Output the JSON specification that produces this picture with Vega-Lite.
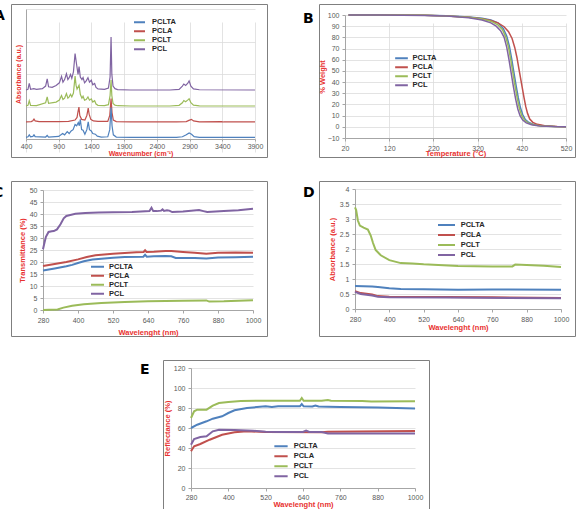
{
"$schema":"https://vega.github.io/schema/vega-lite/v6.json",
"padding":{"left":-8,"top":3,"right":0,"bottom":0},
"background":"white",
"datasets":{
"a":[
{"s":"PCL","x":400,"y":3.77},{"s":"PCL","x":430,"y":3.82},{"s":"PCL","x":450,"y":4.27},{"s":"PCL","x":470,"y":3.82},{"s":"PCL","x":520,"y":3.87},{"s":"PCL","x":560,"y":3.82},{"s":"PCL","x":650,"y":3.87},{"s":"PCL","x":700,"y":4.07},{"s":"PCL","x":724,"y":4.62},{"s":"PCL","x":745,"y":4.02},{"s":"PCL","x":800,"y":3.97},{"s":"PCL","x":860,"y":4.12},{"s":"PCL","x":910,"y":4.32},{"s":"PCL","x":943,"y":4.82},{"s":"PCL","x":965,"y":4.37},{"s":"PCL","x":990,"y":4.57},{"s":"PCL","x":1018,"y":5.02},{"s":"PCL","x":1040,"y":4.57},{"s":"PCL","x":1060,"y":4.72},{"s":"PCL","x":1080,"y":4.97},{"s":"PCL","x":1100,"y":4.67},{"s":"PCL","x":1125,"y":5.17},{"s":"PCL","x":1150,"y":6.57},{"s":"PCL","x":1175,"y":5.67},{"s":"PCL","x":1195,"y":4.97},{"s":"PCL","x":1211,"y":5.57},{"s":"PCL","x":1230,"y":4.77},{"s":"PCL","x":1255,"y":4.57},{"s":"PCL","x":1272,"y":4.72},{"s":"PCL","x":1295,"y":4.32},{"s":"PCL","x":1320,"y":4.47},{"s":"PCL","x":1347,"y":4.72},{"s":"PCL","x":1370,"y":4.37},{"s":"PCL","x":1398,"y":4.52},{"s":"PCL","x":1420,"y":4.17},{"s":"PCL","x":1449,"y":4.27},{"s":"PCL","x":1470,"y":3.97},{"s":"PCL","x":1500,"y":3.85},{"s":"PCL","x":1600,"y":3.82},{"s":"PCL","x":1660,"y":3.92},{"s":"PCL","x":1685,"y":4.77},{"s":"PCL","x":1700,"y":7.85},{"s":"PCL","x":1712,"y":4.97},{"s":"PCL","x":1730,"y":4.07},{"s":"PCL","x":1760,"y":3.87},{"s":"PCL","x":1800,"y":3.8},{"s":"PCL","x":2000,"y":3.77},{"s":"PCL","x":2600,"y":3.77},{"s":"PCL","x":2740,"y":3.82},{"s":"PCL","x":2790,"y":4.07},{"s":"PCL","x":2812,"y":4.23},{"s":"PCL","x":2840,"y":4.12},{"s":"PCL","x":2870,"y":4.27},{"s":"PCL","x":2893,"y":4.47},{"s":"PCL","x":2920,"y":4.07},{"s":"PCL","x":2960,"y":3.85},{"s":"PCL","x":3050,"y":3.79},{"s":"PCL","x":3900,"y":3.77},
{"s":"PCLT","x":400,"y":2.54},{"s":"PCLT","x":430,"y":2.59},{"s":"PCLT","x":450,"y":2.94},{"s":"PCLT","x":470,"y":2.59},{"s":"PCLT","x":560,"y":2.57},{"s":"PCLT","x":700,"y":2.79},{"s":"PCLT","x":724,"y":3.24},{"s":"PCLT","x":745,"y":2.74},{"s":"PCLT","x":860,"y":2.84},{"s":"PCLT","x":910,"y":2.99},{"s":"PCLT","x":943,"y":3.34},{"s":"PCLT","x":965,"y":3.04},{"s":"PCLT","x":990,"y":3.14},{"s":"PCLT","x":1018,"y":3.49},{"s":"PCLT","x":1040,"y":3.14},{"s":"PCLT","x":1060,"y":3.24},{"s":"PCLT","x":1080,"y":3.44},{"s":"PCLT","x":1100,"y":3.24},{"s":"PCLT","x":1125,"y":3.54},{"s":"PCLT","x":1150,"y":4.84},{"s":"PCLT","x":1165,"y":4.14},{"s":"PCLT","x":1180,"y":3.84},{"s":"PCLT","x":1211,"y":4.14},{"s":"PCLT","x":1230,"y":3.44},{"s":"PCLT","x":1255,"y":3.14},{"s":"PCLT","x":1272,"y":3.29},{"s":"PCLT","x":1295,"y":2.99},{"s":"PCLT","x":1320,"y":3.04},{"s":"PCLT","x":1347,"y":3.24},{"s":"PCLT","x":1370,"y":2.99},{"s":"PCLT","x":1398,"y":3.09},{"s":"PCLT","x":1420,"y":2.84},{"s":"PCLT","x":1449,"y":2.94},{"s":"PCLT","x":1470,"y":2.69},{"s":"PCLT","x":1500,"y":2.59},{"s":"PCLT","x":1600,"y":2.57},{"s":"PCLT","x":1660,"y":2.64},{"s":"PCLT","x":1685,"y":3.34},{"s":"PCLT","x":1700,"y":4.54},{"s":"PCLT","x":1712,"y":3.34},{"s":"PCLT","x":1730,"y":2.74},{"s":"PCLT","x":1760,"y":2.6},{"s":"PCLT","x":1800,"y":2.56},{"s":"PCLT","x":2000,"y":2.54},{"s":"PCLT","x":2600,"y":2.54},{"s":"PCLT","x":2740,"y":2.59},{"s":"PCLT","x":2790,"y":2.79},{"s":"PCLT","x":2812,"y":2.96},{"s":"PCLT","x":2840,"y":2.87},{"s":"PCLT","x":2870,"y":2.99},{"s":"PCLT","x":2893,"y":3.09},{"s":"PCLT","x":2920,"y":2.79},{"s":"PCLT","x":2960,"y":2.6},{"s":"PCLT","x":3050,"y":2.55},{"s":"PCLT","x":3900,"y":2.54},
{"s":"PCLA","x":400,"y":1.31},{"s":"PCLA","x":480,"y":1.34},{"s":"PCLA","x":505,"y":1.41},{"s":"PCLA","x":522,"y":1.53},{"s":"PCLA","x":540,"y":1.39},{"s":"PCLA","x":600,"y":1.33},{"s":"PCLA","x":720,"y":1.34},{"s":"PCLA","x":900,"y":1.33},{"s":"PCLA","x":1050,"y":1.36},{"s":"PCLA","x":1150,"y":1.46},{"s":"PCLA","x":1180,"y":1.66},{"s":"PCLA","x":1195,"y":2.11},{"s":"PCLA","x":1209,"y":2.46},{"s":"PCLA","x":1222,"y":1.81},{"s":"PCLA","x":1250,"y":1.51},{"s":"PCLA","x":1300,"y":1.46},{"s":"PCLA","x":1330,"y":1.81},{"s":"PCLA","x":1351,"y":2.38},{"s":"PCLA","x":1365,"y":1.91},{"s":"PCLA","x":1390,"y":1.51},{"s":"PCLA","x":1430,"y":1.39},{"s":"PCLA","x":1500,"y":1.35},{"s":"PCLA","x":1650,"y":1.36},{"s":"PCLA","x":1680,"y":1.81},{"s":"PCLA","x":1700,"y":3.11},{"s":"PCLA","x":1715,"y":2.01},{"s":"PCLA","x":1735,"y":1.46},{"s":"PCLA","x":1780,"y":1.34},{"s":"PCLA","x":2000,"y":1.31},{"s":"PCLA","x":2700,"y":1.31},{"s":"PCLA","x":2850,"y":1.34},{"s":"PCLA","x":2890,"y":1.43},{"s":"PCLA","x":2929,"y":1.51},{"s":"PCLA","x":2960,"y":1.39},{"s":"PCLA","x":3050,"y":1.32},{"s":"PCLA","x":3387,"y":1.34},{"s":"PCLA","x":3420,"y":1.31},{"s":"PCLA","x":3900,"y":1.31},
{"s":"PCLTA","x":400,"y":0.12},{"s":"PCLTA","x":430,"y":0.17},{"s":"PCLTA","x":450,"y":0.32},{"s":"PCLTA","x":470,"y":0.17},{"s":"PCLTA","x":505,"y":0.2},{"s":"PCLTA","x":522,"y":0.32},{"s":"PCLTA","x":540,"y":0.18},{"s":"PCLTA","x":700,"y":0.15},{"s":"PCLTA","x":724,"y":0.27},{"s":"PCLTA","x":745,"y":0.15},{"s":"PCLTA","x":900,"y":0.2},{"s":"PCLTA","x":960,"y":0.42},{"s":"PCLTA","x":990,"y":0.32},{"s":"PCLTA","x":1030,"y":0.57},{"s":"PCLTA","x":1060,"y":0.42},{"s":"PCLTA","x":1090,"y":0.62},{"s":"PCLTA","x":1120,"y":0.72},{"s":"PCLTA","x":1150,"y":1.12},{"s":"PCLTA","x":1175,"y":1.02},{"s":"PCLTA","x":1199,"y":1.27},{"s":"PCLTA","x":1215,"y":1.02},{"s":"PCLTA","x":1230,"y":1.52},{"s":"PCLTA","x":1250,"y":0.72},{"s":"PCLTA","x":1272,"y":0.67},{"s":"PCLTA","x":1300,"y":0.37},{"s":"PCLTA","x":1330,"y":0.72},{"s":"PCLTA","x":1351,"y":1.32},{"s":"PCLTA","x":1370,"y":0.72},{"s":"PCLTA","x":1398,"y":0.62},{"s":"PCLTA","x":1420,"y":0.42},{"s":"PCLTA","x":1460,"y":0.37},{"s":"PCLTA","x":1490,"y":0.22},{"s":"PCLTA","x":1550,"y":0.15},{"s":"PCLTA","x":1650,"y":0.17},{"s":"PCLTA","x":1680,"y":0.72},{"s":"PCLTA","x":1700,"y":2.42},{"s":"PCLTA","x":1715,"y":1.02},{"s":"PCLTA","x":1735,"y":0.32},{"s":"PCLTA","x":1780,"y":0.15},{"s":"PCLTA","x":2000,"y":0.12},{"s":"PCLTA","x":2700,"y":0.12},{"s":"PCLTA","x":2790,"y":0.17},{"s":"PCLTA","x":2850,"y":0.32},{"s":"PCLTA","x":2893,"y":0.47},{"s":"PCLTA","x":2930,"y":0.37},{"s":"PCLTA","x":2970,"y":0.18},{"s":"PCLTA","x":3050,"y":0.13},{"s":"PCLTA","x":3900,"y":0.12}
],
"b":[
{"s":"PCLTA","x":28,"y":100},{"s":"PCLTA","x":100,"y":100},{"s":"PCLTA","x":200,"y":99.8},{"s":"PCLTA","x":250,"y":99.4},{"s":"PCLTA","x":300,"y":98.3},{"s":"PCLTA","x":330,"y":97},{"s":"PCLTA","x":350,"y":95.5},{"s":"PCLTA","x":366,"y":93},{"s":"PCLTA","x":378,"y":88},{"s":"PCLTA","x":386,"y":81},{"s":"PCLTA","x":392,"y":72},{"s":"PCLTA","x":397,"y":61},{"s":"PCLTA","x":402,"y":49},{"s":"PCLTA","x":407,"y":37},{"s":"PCLTA","x":412,"y":26},{"s":"PCLTA","x":417,"y":17},{"s":"PCLTA","x":422,"y":11},{"s":"PCLTA","x":428,"y":6.5},{"s":"PCLTA","x":436,"y":3.8},{"s":"PCLTA","x":448,"y":2},{"s":"PCLTA","x":466,"y":0.9},{"s":"PCLTA","x":496,"y":0.2},{"s":"PCLTA","x":520,"y":0},
{"s":"PCLA","x":28,"y":100},{"s":"PCLA","x":100,"y":100},{"s":"PCLA","x":200,"y":99.7},{"s":"PCLA","x":250,"y":99.2},{"s":"PCLA","x":300,"y":98},{"s":"PCLA","x":330,"y":96.6},{"s":"PCLA","x":350,"y":95},{"s":"PCLA","x":366,"y":93},{"s":"PCLA","x":380,"y":89.5},{"s":"PCLA","x":390,"y":85},{"s":"PCLA","x":398,"y":79},{"s":"PCLA","x":404,"y":71},{"s":"PCLA","x":409,"y":62},{"s":"PCLA","x":413,"y":53},{"s":"PCLA","x":417,"y":44},{"s":"PCLA","x":421,"y":35},{"s":"PCLA","x":425,"y":26},{"s":"PCLA","x":429,"y":18},{"s":"PCLA","x":433,"y":12},{"s":"PCLA","x":438,"y":7},{"s":"PCLA","x":445,"y":4},{"s":"PCLA","x":455,"y":2.2},{"s":"PCLA","x":472,"y":0.9},{"s":"PCLA","x":500,"y":0.2},{"s":"PCLA","x":520,"y":0},
{"s":"PCLT","x":28,"y":100},{"s":"PCLT","x":100,"y":100},{"s":"PCLT","x":200,"y":99.7},{"s":"PCLT","x":250,"y":99.2},{"s":"PCLT","x":300,"y":98},{"s":"PCLT","x":330,"y":96.5},{"s":"PCLT","x":350,"y":94.5},{"s":"PCLT","x":365,"y":91.5},{"s":"PCLT","x":376,"y":87},{"s":"PCLT","x":384,"y":80},{"s":"PCLT","x":390,"y":71},{"s":"PCLT","x":395,"y":60},{"s":"PCLT","x":400,"y":48},{"s":"PCLT","x":405,"y":36},{"s":"PCLT","x":410,"y":25},{"s":"PCLT","x":415,"y":16},{"s":"PCLT","x":420,"y":10},{"s":"PCLT","x":426,"y":6},{"s":"PCLT","x":434,"y":3.5},{"s":"PCLT","x":446,"y":1.8},{"s":"PCLT","x":464,"y":0.8},{"s":"PCLT","x":494,"y":0.2},{"s":"PCLT","x":520,"y":0},
{"s":"PCL","x":28,"y":100},{"s":"PCL","x":100,"y":100},{"s":"PCL","x":200,"y":99.6},{"s":"PCL","x":250,"y":99},{"s":"PCL","x":300,"y":97.5},{"s":"PCL","x":330,"y":95.5},{"s":"PCL","x":350,"y":93},{"s":"PCL","x":362,"y":90},{"s":"PCL","x":372,"y":86},{"s":"PCL","x":380,"y":80},{"s":"PCL","x":386,"y":71},{"s":"PCL","x":391,"y":60},{"s":"PCL","x":396,"y":48},{"s":"PCL","x":401,"y":36},{"s":"PCL","x":406,"y":25},{"s":"PCL","x":411,"y":16},{"s":"PCL","x":416,"y":10},{"s":"PCL","x":422,"y":6},{"s":"PCL","x":430,"y":3.5},{"s":"PCL","x":442,"y":1.8},{"s":"PCL","x":460,"y":0.8},{"s":"PCL","x":490,"y":0.2},{"s":"PCL","x":520,"y":0}
],
"c":[
{"s":"PCL","x":280,"y":25.3},{"s":"PCL","x":285,"y":28},{"s":"PCL","x":290,"y":30.5},{"s":"PCL","x":299,"y":32.5},{"s":"PCL","x":310,"y":32.8},{"s":"PCL","x":317,"y":32.9},{"s":"PCL","x":328,"y":33.6},{"s":"PCL","x":340,"y":35.7},{"s":"PCL","x":351,"y":38.2},{"s":"PCL","x":360,"y":39.2},{"s":"PCL","x":370,"y":39.5},{"s":"PCL","x":391,"y":40.1},{"s":"PCL","x":425,"y":40.4},{"s":"PCL","x":471,"y":40.6},{"s":"PCL","x":520,"y":40.7},{"s":"PCL","x":585,"y":40.8},{"s":"PCL","x":645,"y":41.2},{"s":"PCL","x":652,"y":42.6},{"s":"PCL","x":658,"y":41.2},{"s":"PCL","x":670,"y":41.2},{"s":"PCL","x":685,"y":41.4},{"s":"PCL","x":690,"y":41.9},{"s":"PCL","x":695,"y":41.3},{"s":"PCL","x":705,"y":41.6},{"s":"PCL","x":713,"y":41.4},{"s":"PCL","x":723,"y":40.8},{"s":"PCL","x":760,"y":41},{"s":"PCL","x":815,"y":41.7},{"s":"PCL","x":830,"y":41.2},{"s":"PCL","x":843,"y":40.8},{"s":"PCL","x":900,"y":41.2},{"s":"PCL","x":950,"y":41.6},{"s":"PCL","x":1000,"y":42.2},
{"s":"PCLA","x":280,"y":18.3},{"s":"PCLA","x":320,"y":19.2},{"s":"PCLA","x":360,"y":20},{"s":"PCLA","x":400,"y":21.1},{"s":"PCLA","x":430,"y":22.1},{"s":"PCLA","x":460,"y":22.8},{"s":"PCLA","x":520,"y":23.4},{"s":"PCLA","x":560,"y":23.7},{"s":"PCLA","x":600,"y":24.1},{"s":"PCLA","x":625,"y":24.2},{"s":"PCLA","x":630,"y":24.9},{"s":"PCLA","x":635,"y":24.2},{"s":"PCLA","x":660,"y":24.3},{"s":"PCLA","x":700,"y":24.6},{"s":"PCLA","x":720,"y":24.6},{"s":"PCLA","x":760,"y":24.2},{"s":"PCLA","x":800,"y":23.9},{"s":"PCLA","x":840,"y":23.4},{"s":"PCLA","x":880,"y":23.9},{"s":"PCLA","x":940,"y":24},{"s":"PCLA","x":1000,"y":23.9},
{"s":"PCLTA","x":280,"y":16.5},{"s":"PCLTA","x":320,"y":17.3},{"s":"PCLTA","x":360,"y":18.2},{"s":"PCLTA","x":380,"y":18.8},{"s":"PCLTA","x":400,"y":19.6},{"s":"PCLTA","x":420,"y":20.3},{"s":"PCLTA","x":450,"y":21},{"s":"PCLTA","x":480,"y":21.4},{"s":"PCLTA","x":520,"y":21.8},{"s":"PCLTA","x":560,"y":22.1},{"s":"PCLTA","x":624,"y":22.2},{"s":"PCLTA","x":630,"y":23},{"s":"PCLTA","x":636,"y":22.2},{"s":"PCLTA","x":660,"y":22.4},{"s":"PCLTA","x":700,"y":22.5},{"s":"PCLTA","x":720,"y":22.4},{"s":"PCLTA","x":735,"y":21.7},{"s":"PCLTA","x":800,"y":21.7},{"s":"PCLTA","x":840,"y":21.5},{"s":"PCLTA","x":880,"y":21.9},{"s":"PCLTA","x":940,"y":22},{"s":"PCLTA","x":1000,"y":22.2},
{"s":"PCLT","x":280,"y":0},{"s":"PCLT","x":300,"y":0.1},{"s":"PCLT","x":330,"y":0.2},{"s":"PCLT","x":350,"y":1},{"s":"PCLT","x":380,"y":1.8},{"s":"PCLT","x":420,"y":2.4},{"s":"PCLT","x":480,"y":2.9},{"s":"PCLT","x":560,"y":3.3},{"s":"PCLT","x":640,"y":3.6},{"s":"PCLT","x":760,"y":3.9},{"s":"PCLT","x":840,"y":4},{"s":"PCLT","x":850,"y":3.5},{"s":"PCLT","x":900,"y":3.6},{"s":"PCLT","x":1000,"y":4.1}
],
"d":[
{"s":"PCLT","x":280,"y":3.39},{"s":"PCLT","x":284,"y":3.3},{"s":"PCLT","x":290,"y":2.95},{"s":"PCLT","x":297,"y":2.78},{"s":"PCLT","x":310,"y":2.71},{"s":"PCLT","x":325,"y":2.65},{"s":"PCLT","x":335,"y":2.45},{"s":"PCLT","x":343,"y":2.2},{"s":"PCLT","x":352,"y":1.97},{"s":"PCLT","x":370,"y":1.79},{"s":"PCLT","x":400,"y":1.63},{"s":"PCLT","x":440,"y":1.53},{"s":"PCLT","x":480,"y":1.52},{"s":"PCLT","x":520,"y":1.49},{"s":"PCLT","x":640,"y":1.43},{"s":"PCLT","x":760,"y":1.42},{"s":"PCLT","x":830,"y":1.42},{"s":"PCLT","x":840,"y":1.48},{"s":"PCLT","x":880,"y":1.47},{"s":"PCLT","x":940,"y":1.44},{"s":"PCLT","x":1000,"y":1.4},
{"s":"PCLTA","x":280,"y":0.77},{"s":"PCLTA","x":340,"y":0.75},{"s":"PCLTA","x":360,"y":0.73},{"s":"PCLTA","x":400,"y":0.69},{"s":"PCLTA","x":440,"y":0.67},{"s":"PCLTA","x":520,"y":0.66},{"s":"PCLTA","x":640,"y":0.64},{"s":"PCLTA","x":760,"y":0.65},{"s":"PCLTA","x":1000,"y":0.64},
{"s":"PCLA","x":280,"y":0.59},{"s":"PCLA","x":300,"y":0.53},{"s":"PCLA","x":340,"y":0.48},{"s":"PCLA","x":360,"y":0.43},{"s":"PCLA","x":400,"y":0.41},{"s":"PCLA","x":600,"y":0.4},{"s":"PCLA","x":760,"y":0.39},{"s":"PCLA","x":1000,"y":0.37},
{"s":"PCL","x":280,"y":0.57},{"s":"PCL","x":300,"y":0.5},{"s":"PCL","x":340,"y":0.45},{"s":"PCL","x":360,"y":0.41},{"s":"PCL","x":400,"y":0.39},{"s":"PCL","x":600,"y":0.38},{"s":"PCL","x":1000,"y":0.36}
],
"e":[
{"s":"PCLT","x":280,"y":70},{"s":"PCLT","x":290,"y":76.7},{"s":"PCLT","x":300,"y":78.3},{"s":"PCLT","x":330,"y":78.3},{"s":"PCLT","x":350,"y":82.3},{"s":"PCLT","x":370,"y":85},{"s":"PCLT","x":400,"y":86},{"s":"PCLT","x":440,"y":87},{"s":"PCLT","x":520,"y":87.3},{"s":"PCLT","x":630,"y":87.3},{"s":"PCLT","x":636,"y":90},{"s":"PCLT","x":642,"y":87.3},{"s":"PCLT","x":700,"y":87.3},{"s":"PCLT","x":720,"y":88},{"s":"PCLT","x":730,"y":87.3},{"s":"PCLT","x":830,"y":87},{"s":"PCLT","x":860,"y":86.5},{"s":"PCLT","x":1000,"y":86.7},
{"s":"PCLTA","x":280,"y":60},{"s":"PCLTA","x":300,"y":63.3},{"s":"PCLTA","x":330,"y":66.7},{"s":"PCLTA","x":350,"y":69.3},{"s":"PCLTA","x":380,"y":71.7},{"s":"PCLTA","x":400,"y":75},{"s":"PCLTA","x":420,"y":77.7},{"s":"PCLTA","x":460,"y":80},{"s":"PCLTA","x":520,"y":81.7},{"s":"PCLTA","x":540,"y":81},{"s":"PCLTA","x":560,"y":81.7},{"s":"PCLTA","x":630,"y":81.7},{"s":"PCLTA","x":636,"y":84},{"s":"PCLTA","x":642,"y":81.7},{"s":"PCLTA","x":670,"y":81.5},{"s":"PCLTA","x":680,"y":82.5},{"s":"PCLTA","x":690,"y":81.5},{"s":"PCLTA","x":720,"y":81.3},{"s":"PCLTA","x":760,"y":81},{"s":"PCLTA","x":880,"y":80.5},{"s":"PCLTA","x":1000,"y":79.5},
{"s":"PCLA","x":280,"y":36.7},{"s":"PCLA","x":290,"y":41.7},{"s":"PCLA","x":310,"y":44},{"s":"PCLA","x":340,"y":48.3},{"s":"PCLA","x":380,"y":53.3},{"s":"PCLA","x":420,"y":55.7},{"s":"PCLA","x":460,"y":56.7},{"s":"PCLA","x":520,"y":56},{"s":"PCLA","x":700,"y":55.7},{"s":"PCLA","x":720,"y":56.3},{"s":"PCLA","x":1000,"y":57},
{"s":"PCL","x":280,"y":43.3},{"s":"PCL","x":290,"y":49},{"s":"PCL","x":310,"y":51},{"s":"PCL","x":330,"y":51.7},{"s":"PCL","x":350,"y":56.7},{"s":"PCL","x":370,"y":58.3},{"s":"PCL","x":420,"y":58},{"s":"PCL","x":480,"y":57.3},{"s":"PCL","x":520,"y":56.3},{"s":"PCL","x":560,"y":56},{"s":"PCL","x":640,"y":56},{"s":"PCL","x":650,"y":57.5},{"s":"PCL","x":660,"y":56},{"s":"PCL","x":700,"y":56},{"s":"PCL","x":720,"y":54.5},{"s":"PCL","x":1000,"y":54.5}
]
},
"config":{
"view":{"stroke":"#7F7F7F","strokeWidth":1},
"font":"Liberation Sans",
"axis":{"labelFont":"Liberation Sans","labelFontSize":7,"labelColor":"#595959","titleFont":"Liberation Sans","titleFontSize":7.5,"titleFontWeight":"bold","titleColor":"#E8312F","tickSize":3,"tickColor":"#A6A6A6","domainColor":"#A6A6A6","gridColor":"#DCDCDC","gridWidth":0.8,"labelPadding":3,"titlePadding":2,"labelFlush":false,"labelOverlap":false},
"legend":{"orient":"none","symbolType":"stroke","symbolStrokeWidth":2,"labelFont":"Liberation Sans","labelFontSize":7.5,"labelFontWeight":"bold","labelColor":"#262626","padding":0,"rowPadding":0,"offset":0},
"title":{"anchor":"start","frame":"group","baseline":"top","fontSize":14,"fontWeight":"bold","font":"DejaVu Sans","color":"#000000"}
},
"spacing":22,
"resolve":{"scale":{"color":"independent"},"legend":{"color":"independent"}},
"vconcat":[
{"hconcat":[
{"width":256,"height":153,"title":{"text":"A","dx":-17,"offset":-18.6},"data":{"name":"a"},"mark":{"type":"line","strokeWidth":1.2},
"encoding":{
"x":{"field":"x","type":"quantitative","scale":{"domain":[400,3900],"range":[15,244],"nice":false,"zero":false},"axis":{"values":[400,900,1400,1900,2400,2900,3400,3900],"format":"d","offset":-18,"grid":true,"title":"Wavenumber (cm⁻¹)","tickSize":2,"labelPadding":1,"titlePadding":0,"titleFontSize":7}},
"y":{"field":"y","type":"quantitative","scale":{"domain":[0,10],"range":[135,5],"nice":false,"zero":false},"axis":{"values":[0,2.5,5,7.5,10],"labels":false,"ticks":false,"offset":-15,"grid":true,"title":"Absorbance (a.u.)","titlePadding":5,"titleFontSize":7}},
"color":{"field":"s","type":"nominal","scale":{"domain":["PCLTA","PCLA","PCLT","PCL"],"range":["#4F81BD","#C0504D","#9BBB59","#8064A2"]},"legend":{"title":null,"legendX":122,"legendY":13.8,"symbolSize":121,"clipHeight":9,"labelOffset":6}}
}},
{"width":256,"height":153,"title":{"text":"B","dx":-16,"offset":-21.6},"data":{"name":"b"},"mark":{"type":"line","strokeWidth":1.5},
"encoding":{
"x":{"field":"x","type":"quantitative","scale":{"domain":[20,520],"range":[26,247],"nice":false,"zero":false},"axis":{"values":[20,120,220,320,420,520],"format":"d","offset":-19,"grid":true,"title":"Temperature (°C)","labelPadding":3.5,"titlePadding":-2}},
"y":{"field":"y","type":"quantitative","scale":{"domain":[-10,100],"range":[134,11],"nice":false,"zero":false},"axis":{"values":[-10,0,10,20,30,40,50,60,70,80,90,100],"format":"d","offset":-26,"grid":true,"title":"% Weight","titlePadding":1}},
"color":{"field":"s","type":"nominal","scale":{"domain":["PCLTA","PCLA","PCLT","PCL"],"range":["#4F81BD","#C0504D","#9BBB59","#8064A2"]},"legend":{"title":null,"legendX":75,"legendY":49.8,"symbolSize":161,"clipHeight":9,"labelOffset":3.5}}
}}
],"spacing":34,"resolve":{"scale":{"color":"independent"},"legend":{"color":"independent"}}},
{"hconcat":[
{"width":256,"height":155,"title":{"text":"C","dx":-18,"offset":-18.6},"data":{"name":"c"},"mark":{"type":"line","strokeWidth":2},
"encoding":{
"x":{"field":"x","type":"quantitative","scale":{"domain":[280,1000],"range":[32,242],"nice":false,"zero":false},"axis":{"values":[280,400,520,640,760,880,1000],"format":"d","offset":-26,"grid":false,"title":"Wavelenght (nm)","labelPadding":3.5,"titlePadding":5}},
"y":{"field":"y","type":"quantitative","scale":{"domain":[0,50],"range":[129,9],"nice":false,"zero":false},"axis":{"values":[0,5,10,15,20,25,30,35,40,45,50],"format":"d","offset":-32,"grid":true,"title":"Transmittance (%)","titlePadding":3}},
"color":{"field":"s","type":"nominal","scale":{"domain":["PCLTA","PCLA","PCLT","PCL"],"range":["#4F81BD","#C0504D","#9BBB59","#8064A2"]},"legend":{"title":null,"legendX":79,"legendY":81.2,"symbolSize":169,"clipHeight":9,"labelOffset":4}}
}},
{"width":256,"height":155,"title":{"text":"D","dx":-16,"offset":-18.6},"data":{"name":"d"},"mark":{"type":"line","strokeWidth":2},
"encoding":{
"x":{"field":"x","type":"quantitative","scale":{"domain":[280,1000],"range":[36,242],"nice":false,"zero":false},"axis":{"values":[280,400,520,640,760,880,1000],"format":"d","offset":-27,"grid":false,"title":"Wavelenght (nm)","labelPadding":3.5,"titlePadding":1}},
"y":{"field":"y","type":"quantitative","scale":{"domain":[0,4],"range":[128,8],"nice":false,"zero":false},"axis":{"values":[0,0.5,1,1.5,2,2.5,3,3.5,4],"format":".1~f","offset":-36,"grid":true,"title":"Absorbance (a.u.)","titlePadding":3}},
"color":{"field":"s","type":"nominal","scale":{"domain":["PCLTA","PCLA","PCLT","PCL"],"range":["#4F81BD","#C0504D","#9BBB59","#8064A2"]},"legend":{"title":null,"legendX":118,"legendY":39,"symbolSize":289,"clipHeight":10,"labelOffset":4.7}}
}}
],"spacing":34,"resolve":{"scale":{"color":"independent"},"legend":{"color":"independent"}}},
{"hconcat":[
{"width":128,"height":1,"view":{"stroke":null},"data":{"values":[]},"mark":"point","encoding":{}},
{"width":266,"height":160,"title":{"text":"E","dx":-23,"offset":-16.6},"data":{"name":"e"},"mark":{"type":"line","strokeWidth":2},
"encoding":{
"x":{"field":"x","type":"quantitative","scale":{"domain":[280,1000],"range":[28,252],"nice":false,"zero":false},"axis":{"values":[280,400,520,640,760,880,1000],"format":"d","offset":-32,"grid":false,"title":"Wavelenght (nm)","labelPadding":2.5,"titlePadding":0}},
"y":{"field":"y","type":"quantitative","scale":{"domain":[0,120],"range":[128,8],"nice":false,"zero":false},"axis":{"values":[0,20,40,60,80,100,120],"format":"d","offset":-28,"grid":true,"title":"Reflectance (%)","titlePadding":2}},
"color":{"field":"s","type":"nominal","scale":{"domain":["PCLTA","PCLA","PCLT","PCL"],"range":["#4F81BD","#C0504D","#9BBB59","#8064A2"]},"legend":{"title":null,"legendX":110,"legendY":81.3,"symbolSize":177,"clipHeight":10,"labelOffset":4.7}}
}}
],"spacing":0,"resolve":{"scale":{"color":"independent"},"legend":{"color":"independent"}}}
]
}
